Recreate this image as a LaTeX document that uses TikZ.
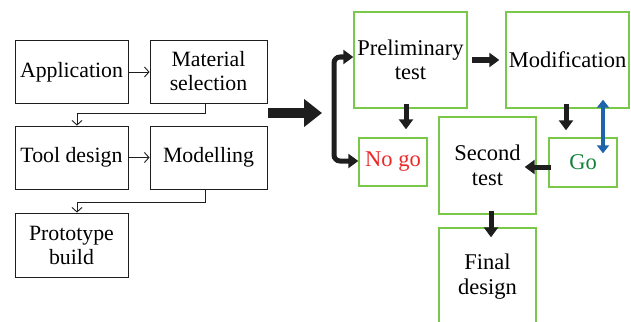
\documentclass[tikz,border=0pt]{standalone}
\usepackage{fontspec}
\setmainfont{Liberation Serif}
\usetikzlibrary{arrows.meta}
\definecolor{gbord}{RGB}{122,200,74}
\definecolor{nogored}{RGB}{235,40,40}
\definecolor{gotext}{RGB}{20,130,60}
\definecolor{bluearr}{RGB}{30,100,170}
\definecolor{blk}{RGB}{30,30,30}
\begin{document}
\begin{tikzpicture}[x=1pt,y=-1pt,
  every node/.style={align=center, inner sep=0pt},
  lbox/.style={draw=blk, line width=0.9pt, minimum width=113pt, minimum height=63pt, font=\fontsize{21.8}{24}\selectfont},
  gbox/.style={draw=gbord, line width=1.4pt, font=\fontsize{22.5}{24.5}\selectfont},
  thinarrow/.style={draw=blk, line width=0.9pt, -{Straight Barb[length=4.5pt,width=10pt]}},
  blkarrow/.style={draw=blk, line width=5pt, -{Triangle[length=10pt,width=14pt]}},
]
\useasboundingbox (0,0) rectangle (631,321);
% left flow
\node[lbox] (app) at (71.5,72) {Application};
\node[lbox, minimum width=117pt] (mat) at (208.5,71.5) {Material\\selection};
\node[lbox] (tool) at (71.5,157.5) {Tool design};
\node[lbox, minimum width=117pt] (model) at (208.5,157.5) {Modelling};
\node[lbox, minimum height=64pt] (proto) at (71.5,245) {Prototype\\build};
\draw[thinarrow] (app.east) -- (app.east -| mat.west);
\draw[thinarrow] ([xshift=-3.5pt]mat.south) -- ++(0,10) -| ([xshift=5.5pt]tool.north);
\draw[thinarrow] (tool.east) -- (tool.east -| model.west);
\draw[thinarrow] ([xshift=-3.5pt]model.south) -- ++(0,13) -| ([xshift=5.5pt]proto.north);
% big arrow
\coordinate (bigs) at (268,113);
\coordinate (bige) at (322,113);
\draw[blk, line width=10pt, -{Triangle[length=18pt,width=27pt]}] (bigs) -- (bige);
% right flow
\node[gbox, minimum width=113pt, minimum height=96pt] (prelim) at (410.5,60) {Preliminary\\test};
\node[gbox, minimum width=123pt, minimum height=96pt] (mod) at (567.5,60) {Modification};
\node[gbox, minimum width=68pt, minimum height=48pt, text=nogored] (nogo) at (393,162) {No go};
\node[gbox, minimum width=68pt, minimum height=49pt, text=gotext] (go) at (583,162.5) {Go};
\node[gbox, minimum width=97pt, minimum height=97pt] (second) at (487.5,165.5) {Second\\test};
\node[gbox, minimum width=97pt, minimum height=97pt] (final) at (487.5,276.5) {Final\\design};
% bracket
\draw[blkarrow, rounded corners=6pt, {Triangle[length=10pt,width=14pt]}-{Triangle[length=10pt,width=14pt]}]
  (prelim.west |- 0,57) -- (334,57) -- (334,161) -- (nogo.west |- 0,161);
\draw[blkarrow] ([xshift=4pt]prelim.east) -- ([xshift=-6pt]mod.west);
\draw[blkarrow] ([xshift=-4.5pt,yshift=5pt]prelim.south) -- ([xshift=13pt,yshift=8pt]nogo.north);
\draw[blkarrow] ([xshift=-1.5pt,yshift=5pt]mod.south) -- ([xshift=-17pt,yshift=7pt]go.north);
\draw[bluearr, line width=4pt, {Triangle[length=8pt,width=12pt]}-{Triangle[length=8pt,width=12pt]}]
  ([xshift=35.5pt,yshift=9pt]mod.south) -- ([xshift=20pt,yshift=-16pt]go.north);
\draw[blkarrow] ([xshift=3pt,yshift=-4.5pt]go.west) -- ([xshift=-12pt,yshift=-1.5pt]second.east);
\draw[blkarrow] ([xshift=3.5pt,yshift=4pt]second.south) -- ([xshift=3.5pt,yshift=-10pt]final.north);
\end{tikzpicture}
\end{document}
